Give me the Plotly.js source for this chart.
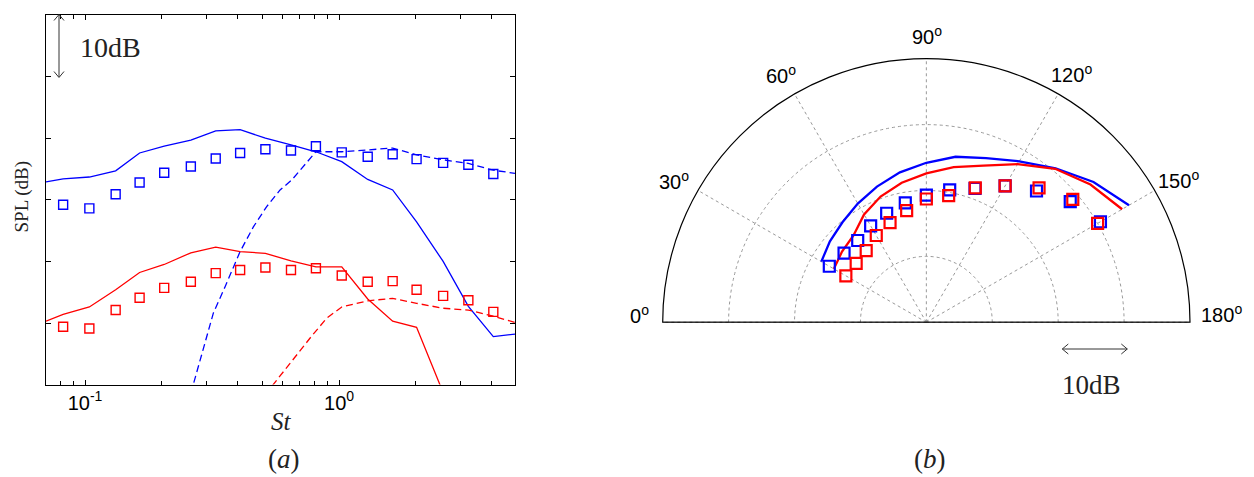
<!DOCTYPE html>
<html>
<head>
<meta charset="utf-8">
<script src="https://cdn.plot.ly/plotly-3.0.1.min.js"></script>
<style>html,body{margin:0;padding:0;background:#fff;}#chart{width:1254px;height:477px;}</style>
</head>
<body>
<div id="chart"></div>
<script>
// ---------- Panel (a): SPL spectra ----------
const st = [0.082,0.104,0.132,0.164,0.205,0.261,0.327,0.408,0.513,0.647,0.811,1.025,1.297,1.626,2.02,2.57,3.23,4.05];
const blueSquares = [29.2,28.6,30.9,32.8,34.4,35.4,36.7,37.6,38.2,38.0,38.7,37.7,37.0,37.4,36.6,36.0,35.7,34.2];
const redSquares  = [9.4,9.1,12.1,14.1,15.7,16.7,18.1,18.6,19.0,18.6,18.9,17.7,16.7,16.8,15.4,14.4,13.7,11.8];

const stBlueSolid = [0.0702,0.082,0.104,0.132,0.164,0.205,0.261,0.327,0.408,0.513,0.647,0.811,1.025,1.297,1.626,2.02,2.57,3.23,4.05,4.93];
const blueSolid   = [32.9,33.4,33.7,34.7,37.6,38.7,39.7,41.2,41.4,40.0,38.9,37.8,36.2,33.3,31.6,26.4,20.0,12.7,7.8,8.2];

const stRedSolid = [0.0702,0.082,0.104,0.132,0.164,0.205,0.261,0.327,0.408,0.513,0.647,0.811,1.025,1.297,1.626,2.02,2.57];
const redSolid   = [10.3,11.4,12.6,15.4,18.2,19.5,21.4,22.3,21.6,21.3,20.1,19.1,19.1,13.9,10.3,9.3,-1.3];

const stBlueDash = [0.261,0.292,0.320,0.356,0.408,0.460,0.519,0.586,0.651,0.811,1.025,1.297,1.626,2.02,2.57,3.23,4.05,4.93];
const blueDash   = [-1.4,5.9,11.6,15.9,21.6,25.6,28.9,31.6,33.2,37.8,37.8,38.1,38.4,37.3,36.5,35.9,34.8,34.3];

const stRedDash = [0.513,0.586,0.631,0.723,0.781,0.895,1.025,1.297,1.626,2.02,2.57,3.23,4.05,4.93];
const redDash   = [-1.6,1.4,3.2,6.2,7.9,10.8,12.6,13.6,14.0,13.2,12.4,12.1,11.1,10.1];

const xTickVals = [0.1, 1];
const xTickText = ['10<sup>-1</sup>', '10<sup>0</sup>'];
const xMinorVals = [0.08,0.09,0.2,0.3,0.4,0.5,0.6,0.7,0.8,0.9,2,3,4];
const yTickVals = [10,20,30,40,50];

// ---------- Panel (b): directivity ----------
const theta = [30,40,50,60,70,80,90,100,110,120,130,140,150];
const blueLineP = [18.4,19.1,19.8,20.8,21.9,23.1,24.2,25.5,26.5,28.2,30.5,33.1,35.5];
const redLineP  = [16.2,16.7,17.2,18.9,20.3,21.5,22.6,23.9,25.3,27.7,30.4,32.5,34.3];
const blueSqP   = [17.0,16.3,16.2,16.9,17.6,18.4,19.3,20.4,21.6,23.9,26.0,28.5,30.5];
const redSqP    = [14.1,13.9,14.2,15.2,16.1,17.2,18.7,19.5,21.7,23.9,26.6,29.0,30.0];
const angTickVals = [0,30,60,90,120,150,180];
const angTickText = angTickVals.map(a => a + '<sup>o</sup>');
const radialMax = 40;

const W = 1254, H = 477;
const px = x => x / W;
const py = y => 1 - y / H;

const BLUE = '#0000ff', RED = '#ff0000';

const traces = [
  {x: stBlueSolid, y: blueSolid, mode: 'lines', line: {color: BLUE, width: 1.3}, xaxis: 'x', yaxis: 'y'},
  {x: stBlueDash, y: blueDash, mode: 'lines', line: {color: BLUE, width: 1.3, dash: '7px,4px'}, xaxis: 'x', yaxis: 'y'},
  {x: st, y: blueSquares, mode: 'markers', marker: {symbol: 'square-open', size: 9, color: BLUE, line: {width: 1.4}}, xaxis: 'x', yaxis: 'y'},
  {x: stRedSolid, y: redSolid, mode: 'lines', line: {color: RED, width: 1.3}, xaxis: 'x', yaxis: 'y'},
  {x: stRedDash, y: redDash, mode: 'lines', line: {color: RED, width: 1.3, dash: '7px,4px'}, xaxis: 'x', yaxis: 'y'},
  {x: st, y: redSquares, mode: 'markers', marker: {symbol: 'square-open', size: 9, color: RED, line: {width: 1.4}}, xaxis: 'x', yaxis: 'y'},
  // polar baseline (diameter)
  {type: 'scatterpolar', r: [radialMax, 0, radialMax], theta: [0, 0, 180], mode: 'lines', line: {color: '#000', width: 1.2}, subplot: 'polar'},
  {type: 'scatterpolar', r: blueLineP, theta: theta, mode: 'lines', line: {color: BLUE, width: 2.3}, subplot: 'polar'},
  {type: 'scatterpolar', r: redLineP, theta: theta, mode: 'lines', line: {color: RED, width: 2.3}, subplot: 'polar'},
  {type: 'scatterpolar', r: blueSqP, theta: theta, mode: 'markers', marker: {symbol: 'square-open', size: 11, color: BLUE, line: {width: 2.2}}, subplot: 'polar'},
  {type: 'scatterpolar', r: redSqP, theta: theta, mode: 'markers', marker: {symbol: 'square-open', size: 11, color: RED, line: {width: 2.2}}, subplot: 'polar'}
];

const serif = 'Liberation Serif';
const sans = 'Liberation Sans';
const arrowColor = '#333';

function path(pts) {
  return pts.map((p, i) => (i ? 'L' : 'M') + px(p[0]).toFixed(5) + ',' + py(p[1]).toFixed(5)).join(' ');
}

// angular label centres (pixels) placed just outside the outer arc
const angLabelPos = [[639, 314], [674, 180], [781, 75], [927, 36], [1071, 73], [1178, 179], [1221, 313]];

const annotations = [
  {xref: 'paper', yref: 'paper', x: px(110), y: py(47), text: '10dB', showarrow: false, xanchor: 'center', yanchor: 'middle', font: {family: serif, size: 28, color: '#222'}},
  {xref: 'paper', yref: 'paper', x: px(281), y: py(421), text: '<i>St</i>', showarrow: false, xanchor: 'center', yanchor: 'middle', font: {family: serif, size: 25, color: '#222'}},
  {xref: 'paper', yref: 'paper', x: px(284), y: py(459), text: '(<i>a</i>)', showarrow: false, xanchor: 'center', yanchor: 'middle', font: {family: serif, size: 27, color: '#222'}},
  {xref: 'paper', yref: 'paper', x: px(21.5), y: py(197), text: 'SPL (dB)', textangle: -90, showarrow: false, xanchor: 'center', yanchor: 'middle', font: {family: serif, size: 19, color: '#222'}},
  {xref: 'paper', yref: 'paper', x: px(1091), y: py(385), text: '10dB', showarrow: false, xanchor: 'center', yanchor: 'middle', font: {family: serif, size: 27, color: '#222'}},
  {xref: 'paper', yref: 'paper', x: px(930), y: py(459), text: '(<i>b</i>)', showarrow: false, xanchor: 'center', yanchor: 'middle', font: {family: serif, size: 27, color: '#222'}}
];
angTickText.forEach((t, i) => {
  annotations.push({xref: 'paper', yref: 'paper', x: px(angLabelPos[i][0]), y: py(angLabelPos[i][1]), text: t, showarrow: false, xanchor: 'center', yanchor: 'middle', font: {family: sans, size: 20, color: '#000'}});
});

const layout = {
  width: W, height: H, autosize: false,
  margin: {l: 0, r: 0, t: 0, b: 0},
  paper_bgcolor: '#fff', plot_bgcolor: '#fff',
  showlegend: false,
  xaxis: {
    type: 'log', range: [Math.log10(0.0702), Math.log10(4.93)],
    domain: [px(46), px(515)],
    showline: true, linecolor: '#000', linewidth: 1.2, mirror: 'ticks',
    ticks: 'inside', ticklen: 5, tickcolor: '#000', tickwidth: 1,
    tickmode: 'array', tickvals: xTickVals, ticktext: xTickText,
    tickfont: {family: sans, size: 20, color: '#000'},
    minor: {tickmode: 'array', tickvals: xMinorVals, ticks: 'inside', ticklen: 4, tickcolor: '#000', tickwidth: 1, showgrid: false},
    showgrid: false, zeroline: false
  },
  yaxis: {
    range: [0, 60], domain: [py(384.6), py(15)],
    showline: true, linecolor: '#000', linewidth: 1.2, mirror: 'ticks',
    ticks: 'inside', ticklen: 5, tickcolor: '#000', tickwidth: 1,
    tickmode: 'array', tickvals: yTickVals, showticklabels: false,
    showgrid: false, zeroline: false
  },
  polar: {
    domain: {x: [px(662.7), px(1190)], y: [py(322.3), py(58.6)]},
    sector: [0, 180],
    bgcolor: '#fff',
    angularaxis: {
      rotation: 180, direction: 'clockwise',
      tickmode: 'array', tickvals: angTickVals, showticklabels: false,
      showline: true, linecolor: '#000', linewidth: 1.2,
      showgrid: true, gridcolor: '#999', griddash: 'dot', gridwidth: 1,
      ticks: ''
    },
    radialaxis: {
      range: [0, radialMax], tickmode: 'array', tickvals: [10, 20, 30],
      showticklabels: false, ticks: '', showline: false,
      showgrid: true, gridcolor: '#999', griddash: 'dot', gridwidth: 1
    }
  },
  annotations: annotations,
  shapes: [
    // vertical 10dB scale arrow (panel a)
    {type: 'path', xref: 'paper', yref: 'paper', path: path([[59, 15], [59, 77]]), line: {color: arrowColor, width: 1}},
    {type: 'path', xref: 'paper', yref: 'paper', path: path([[54, 20.5], [59, 14.5], [64, 20.5]]), line: {color: arrowColor, width: 1}},
    {type: 'path', xref: 'paper', yref: 'paper', path: path([[54, 71.5], [59, 77.5], [64, 71.5]]), line: {color: arrowColor, width: 1}},
    // horizontal 10dB scale arrow (panel b)
    {type: 'path', xref: 'paper', yref: 'paper', path: path([[1062.3, 349], [1127.3, 349]]), line: {color: arrowColor, width: 1}},
    {type: 'path', xref: 'paper', yref: 'paper', path: path([[1068.3, 344], [1062.3, 349], [1068.3, 354]]), line: {color: arrowColor, width: 1}},
    {type: 'path', xref: 'paper', yref: 'paper', path: path([[1121.3, 344], [1127.3, 349], [1121.3, 354]]), line: {color: arrowColor, width: 1}}
  ]
};

Plotly.newPlot('chart', traces, layout, {displayModeBar: false, staticPlot: true});
</script>
</body>
</html>
